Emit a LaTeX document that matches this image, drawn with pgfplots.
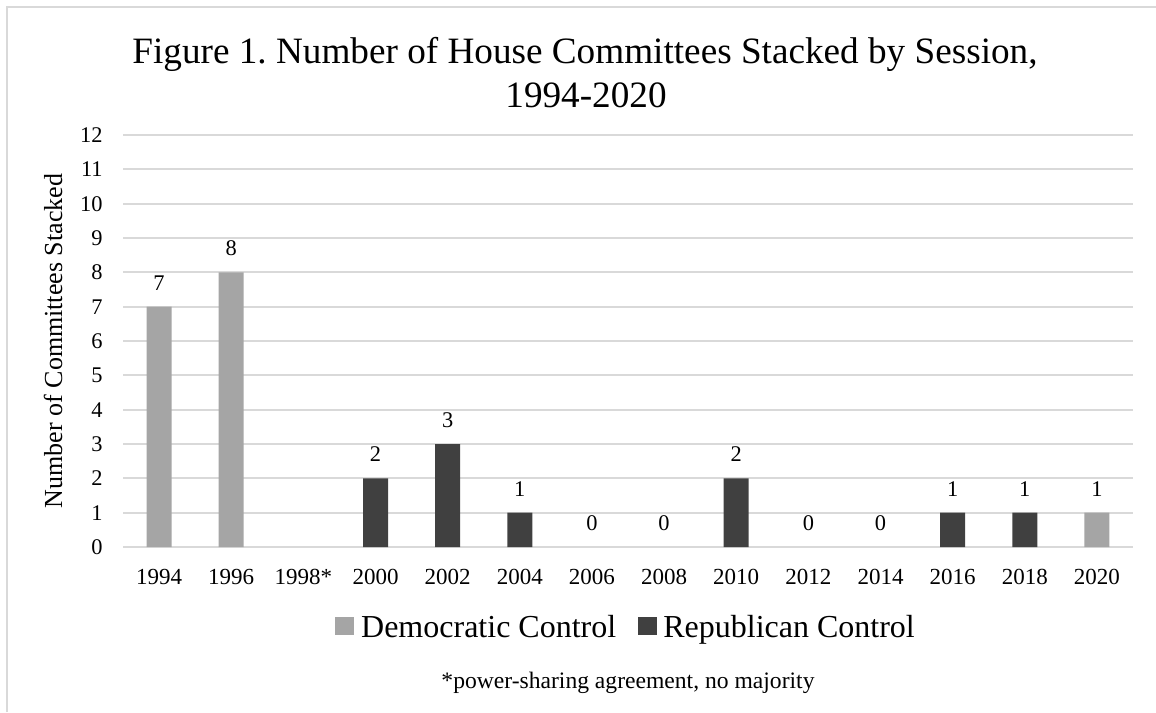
\documentclass[border=0pt]{standalone}
\usepackage{fontspec}
\setmainfont{Liberation Serif}
\usepackage{pgfplots}
\pgfplotsset{compat=1.18}
\definecolor{dem}{HTML}{A5A5A5}
\definecolor{rep}{HTML}{404040}
\definecolor{gridc}{HTML}{D9D9D9}
\frenchspacing
\begin{document}
\begin{tikzpicture}[x=0.5pt,y=-0.5pt]
\useasboundingbox (0,0) rectangle (1156,712);
\draw[gridc, line width=0.9pt] (7,712) -- (7,7) -- (1156,7);
\node[font=\fontsize{18.6}{22}\selectfont, anchor=base] at (585,63) {Figure 1. Number of House Committees Stacked by Session,};
\node[font=\fontsize{18.6}{22}\selectfont, anchor=base] at (586,107) {1994-2020};
\node[font=\fontsize{13}{15}\selectfont, rotate=90] at (53,341) {Number of Committees Stacked};
\node[font=\fontsize{11.8}{14}\selectfont, anchor=base] at (628,688) {*power-sharing agreement, no majority};
\begin{axis}[
  at={(61.5pt,-273.5pt)}, anchor=south west,
  scale only axis, width=505pt, height=206pt,
  ybar, bar width=12.5pt, bar shift=0pt,
  xmin=-0.5, xmax=13.5, ymin=0, ymax=12,
  xtick={0,...,13},
  xticklabels={1994,1996,1998*,2000,2002,2004,2006,2008,2010,2012,2014,2016,2018,2020},
  ytick={0,...,12},
  ymajorgrids, grid style={gridc, line width=0.9pt},
  axis line style={draw=none},
  tick style={draw=none},
  major tick length=0pt,
  /pgf/number format/assume math mode=true,
  yticklabel style={font=\fontsize{11.2}{13}\selectfont, anchor=east, inner sep=0pt, xshift=-10pt},
  xticklabel style={font=\fontsize{11.5}{13}\selectfont, anchor=north, inner sep=0pt, text height=8pt, text depth=0pt, yshift=-10.5pt},
  nodes near coords,
  every node near coord/.append style={font=\fontsize{11.2}{13}\selectfont, inner sep=0pt, yshift=8pt, text=black},
  legend style={at={(0.5005,-0.197)}, anchor=center, draw=none, font=\fontsize{16}{19}\selectfont,
     /tikz/every even column/.append style={column sep=7.25pt},
     nodes={inner xsep=3.4pt}},
  legend columns=2,
  legend image code/.code={\fill[#1] (0pt,-3.2pt) rectangle (9.5pt,5.8pt);},
]
\addplot[fill=dem, draw=none] coordinates {(0,7) (1,8) (13,1)};
\addplot[fill=rep, draw=none] coordinates {(3,2) (4,3) (5,1) (8,2) (11,1) (12,1)};
\addplot[draw=none, fill=none, forget plot] coordinates {(6,0) (7,0) (9,0) (10,0)};
\legend{Democratic Control, Republican Control}
\end{axis}
\end{tikzpicture}
\end{document}
